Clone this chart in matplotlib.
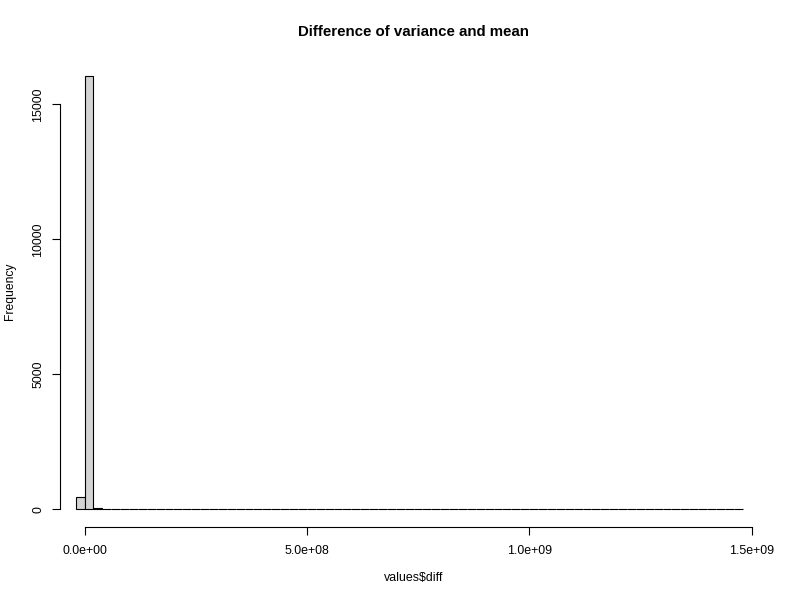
"""Histogram of variance-mean difference, base-R look."""
import matplotlib

matplotlib.use("Agg")
import matplotlib.pyplot as plt  # noqa: E402
import numpy as np  # noqa: E402

BIN_WIDTH = 2e7
FIRST_EDGE = -2e7
counts = [450, 16060, 45, 6, 2, 1] + [0] * 69
x_ticks = [0, 5e8, 1e9, 1.5e9]
x_labels = ["0.0e+00", "5.0e+08", "1.0e+09", "1.5e+09"]
y_ticks = [0, 5000, 10000, 15000]
y_labels = ["0", "5000", "10000", "15000"]

W, H = 800, 600
LW = 0.8
FS = 8.9

plt.rcParams["font.family"] = ["Liberation Sans", "DejaVu Sans"]

fig = plt.figure(figsize=(W / 100, H / 100), dpi=100)
ax = fig.add_axes([59.5 / W, 1 - 526.5 / H, (771 - 59.5) / W, (526.5 - 59) / H])
ax.set_xlim(-5.625e7, 1.54385e9)
ax.set_ylim(-630, 16685)

left_edges = FIRST_EDGE + BIN_WIDTH * np.arange(len(counts))
ax.bar(left_edges, counts, width=BIN_WIDTH, align="edge",
       facecolor="#D3D3D3", edgecolor="black", linewidth=LW)

for side in ("top", "right"):
    ax.spines[side].set_visible(False)
ax.spines["left"].set_bounds(y_ticks[0], y_ticks[-1])
ax.spines["bottom"].set_bounds(x_ticks[0], x_ticks[-1])
ax.spines["left"].set_linewidth(LW)
ax.spines["bottom"].set_linewidth(LW)

ax.set_xticks(x_ticks, x_labels)
ax.set_yticks(y_ticks, y_labels)
ax.tick_params(axis="both", length=6, width=LW, labelsize=FS)
ax.tick_params(axis="x", pad=7)
ax.tick_params(axis="y", pad=5)
for lab in ax.get_yticklabels():
    lab.set_rotation(90)
    lab.set_va("center")

fig.text(413.5 / W, 1 - 31.5 / H, "Difference of variance and mean",
         ha="center", va="center", fontsize=10.8, fontweight="bold")
fig.text(413.5 / W, 1 - 578 / H, "values$diff", ha="center", va="center",
         fontsize=FS, parse_math=False)
fig.text(10 / W, 1 - 291 / H, "Frequency", ha="center", va="center",
         rotation=90, fontsize=8.7)

fig.savefig("out.png", dpi=100)
